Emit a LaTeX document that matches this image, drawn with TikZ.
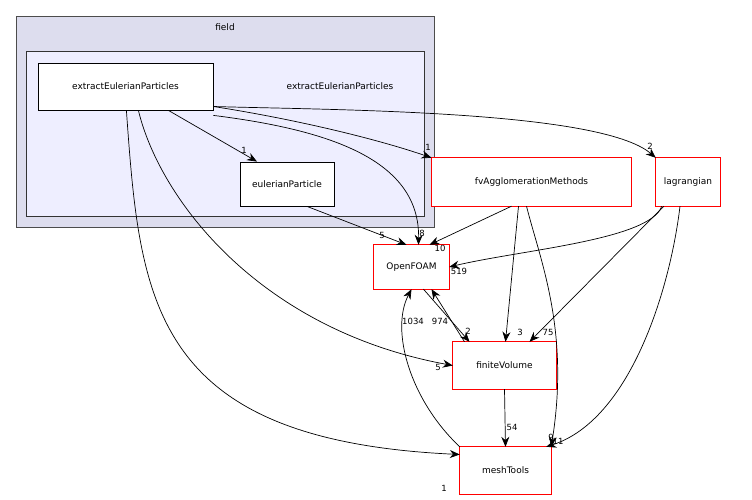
\documentclass[tikz,border=0pt]{standalone}
\usepackage{fontspec}
\setmainfont{DejaVu Sans}
\usetikzlibrary{positioning,arrows.meta}
\definecolor{outerfill}{HTML}{DDDDEE}
\definecolor{innerfill}{HTML}{EEEEFF}
\tikzset{
  dir/.style={draw=black,fill=white,line width=0.8pt,font=\fontsize{9}{11}\selectfont,inner xsep=2pt},
  ext/.style={fill=white,font=\fontsize{9}{11}\selectfont,inner xsep=2pt},
  dep/.style={-{Stealth[length=10pt,width=8pt]},black,line width=0.7pt},
  num/.style={font=\fontsize{8.5}{10}\selectfont,inner sep=1pt},
}
\begin{document}
\begin{tikzpicture}[x=1pt,y=-1pt]
\useasboundingbox (0,0) rectangle (752,500);
%% packages
\draw [fill=outerfill,draw=black!70,line width=0.8pt] (16,16) rectangle (434,227);
\node [font=\fontsize{9}{11}\selectfont] at (225,27) {field};
\draw [fill=innerfill,draw=black!80,line width=0.8pt] (26,51) rectangle (424,216);
\node [font=\fontsize{9}{11}\selectfont] at (340,86) {extractEulerianParticles};
%% directories
\node [dir,minimum width=175pt,minimum height=47pt] (eep) at (125.5,86.5) {extractEulerianParticles};
\node [dir,minimum width=94pt,minimum height=44pt] (ep) at (287,184) {eulerianParticle};
\node [ext,minimum width=75pt,minimum height=44pt] (of) at (411.5,267) {OpenFOAM};
\node [ext,minimum width=199pt,minimum height=48pt] (fva) at (531.5,182) {fvAgglomerationMethods};
\node [ext,minimum width=64pt,minimum height=48pt] (lag) at (688,182) {lagrangian};
\node [ext,minimum width=103pt,minimum height=47pt] (fv) at (504.5,365.5) {finiteVolume};
\node [ext,minimum width=91pt,minimum height=47pt] (mt) at (505.5,470.5) {meshTools};
\foreach \n in {of,fva,lag,fv,mt}
  \draw [red,line width=0.8pt] (\n.south west) rectangle (\n.north east);
%% dependencies
\draw [dep] ([xshift=-45pt]eep.south east) -- ([xshift=-30pt]ep.north);
\node [num] at (244,150) {1};
\draw [dep] ([yshift=-5pt]eep.south east) .. controls (330,130) and (420,160) .. ([xshift=7pt]of.north);
\node [num] at (422,233) {8};
\draw [dep] ([yshift=-20pt]eep.east) .. controls (300,120) and (380,140) .. ([xshift=-100pt]fva.north);
\node [num] at (428,147) {1};
\draw [dep] ([yshift=-20pt]eep.east) .. controls (330,110) and (600,110) .. (lag.north west);
\node [num] at (650,146) {2};
\draw [dep] ([xshift=-75pt]eep.south east) .. controls (160,200) and (260,330) .. (fv.west);
\node [num] at (438,367) {5};
\draw [dep] ([xshift=-87pt]eep.south east) .. controls (140,300) and (150,440) .. ([yshift=16pt]mt.west);
\node [num] at (444,488) {1};
\draw [dep] ([xshift=20pt]ep.south) -- ([xshift=-5pt]of.north);
\node [num] at (382,235) {5};
\draw [dep] ([xshift=-20pt]fva.south) -- ([xshift=18pt]of.north);
\node [num] at (440,248) {10};
\draw [dep] ([xshift=-13pt]fva.south) -- ([xshift=1pt]fv.north);
\node [num] at (520,332) {3};
\draw [dep] ([xshift=-5pt]fva.south) .. controls (540,260) and (570,330) .. (mt.north east);
\node [num] at (551,437) {9};
\draw [dep] ([xshift=6pt]lag.south west) .. controls (650,240) and (520,250) .. (of.east);
\node [num] at (459,271) {519};
\draw [dep] ([xshift=8pt]lag.south west) -- ([xshift=25pt]fv.north);
\node [num] at (548,332) {75};
\draw [dep] ([xshift=-8pt]lag.south) .. controls (670,290) and (630,420) .. ([xshift=-5pt]mt.north east);
\node [num] at (558,441) {11};
\draw [dep] ([xshift=-40pt]fv.north) -- ([xshift=20pt]of.south);
\node [num] at (440,321) {974};
\draw [dep] ([xshift=12pt]of.south) -- ([xshift=-35pt]fv.north);
\node [num] at (468,331) {2};
\draw [dep] (fv.south) -- (mt.north);
\node [num] at (512,427) {54};
\draw [dep] (mt.north west) .. controls (410,400) and (390,330) .. (of.south);
\node [num] at (413,321) {1034};
\end{tikzpicture}
\end{document}
